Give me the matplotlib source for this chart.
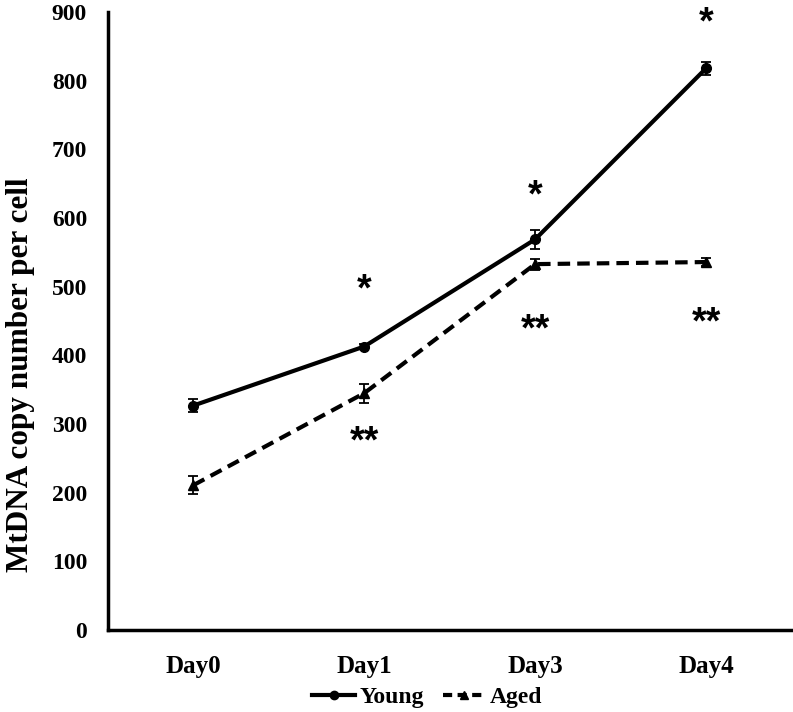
import matplotlib
matplotlib.use("Agg")
import matplotlib.pyplot as plt
from matplotlib.lines import Line2D
import numpy as np

# ── Data ──────────────────────────────────────────────────────────────────────
days       = ["Day0", "Day1", "Day3", "Day4"]
young      = [327, 413, 569, 818]
young_err  = [10, 4, 14, 10]
aged       = [211, 345, 533, 536]
aged_err   = [13, 14, 8, 6]

# significance marks: (category index, y value, text)
stars_young = [(1, 494, "*"), (2, 632, "*"), (3, 883, "*")]
stars_aged  = [(1, 273, "**"), (2, 436, "**"), (3, 446, "**")]

# ── Plot ──────────────────────────────────────────────────────────────────────
plt.rcParams.update({
    "font.family": "Liberation Serif",
    "font.weight": "bold",
})

DASH = (0, (3, 1.7))

fig = plt.figure(figsize=(7.93, 7.12), dpi=100)
ax = fig.add_axes([0.136, 0.115, 0.862, 0.868])

x = np.arange(len(days)) + 0.5

ax.errorbar(x, young, yerr=young_err, color="black", lw=3, marker="o",
            ms=7, capsize=3.5, elinewidth=1.3, capthick=1.3)
ax.errorbar(x, aged, yerr=aged_err, color="black", lw=3, ls=DASH,
            marker="^", ms=7, capsize=3.5, elinewidth=1.3, capthick=1.3)

for i, yv, s in stars_young + stars_aged:
    ax.text(x[i], yv, s, ha="center", va="center", fontsize=27,
            family="Liberation Sans", fontweight="bold")

ax.set_xlim(0, len(days))
ax.set_ylim(0, 900)
ax.set_yticks(range(0, 901, 100))
ax.set_xticks(x)
ax.set_xticklabels(days, fontsize=18, fontweight="bold")
ax.tick_params(axis="x", length=0, pad=18)
ax.tick_params(axis="y", length=0, labelsize=17, pad=15)
for lab in ax.get_yticklabels():
    lab.set_fontweight("bold")

ax.spines["top"].set_visible(False)
ax.spines["right"].set_visible(False)
ax.spines["left"].set_linewidth(2.5)
ax.spines["bottom"].set_linewidth(2.5)

ax.set_ylabel("MtDNA copy number per cell", fontsize=22.5, fontweight="bold")
ax.yaxis.set_label_coords(-0.106, 0.413)

handles = [
    Line2D([], [], color="black", lw=3, marker="o", ms=6),
    Line2D([], [], color="black", lw=3, ls=(0, (2.2, 1.3)), marker="^", ms=6),
]
leg = fig.legend(handles, ["Young", "Aged"], loc="center",
                 bbox_to_anchor=(0.539, 0.021), ncol=2, frameon=False,
                 fontsize=17, handlelength=1.8, columnspacing=0.8,
                 handletextpad=0.2, borderaxespad=0, borderpad=0)
for t in leg.get_texts():
    t.set_fontweight("bold")

fig.savefig("out.png", dpi=100)
